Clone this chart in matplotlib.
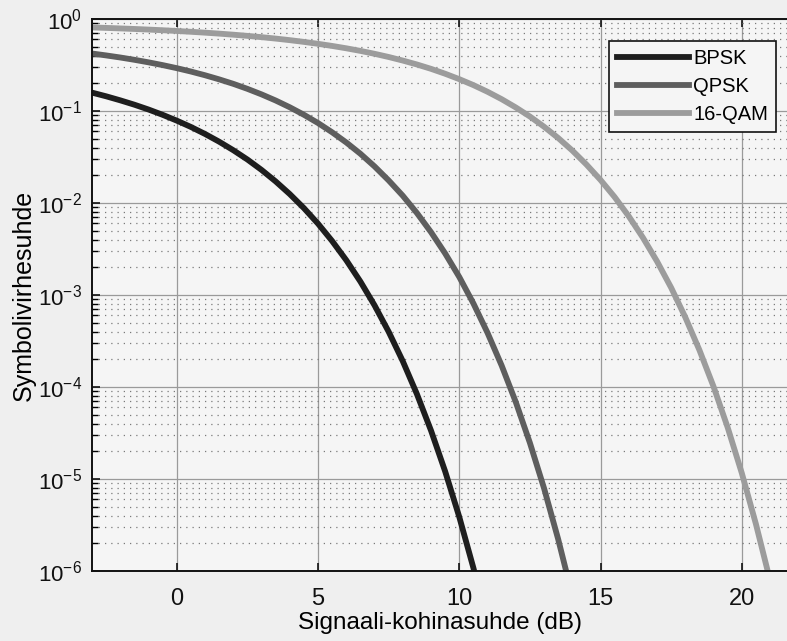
import matplotlib
matplotlib.use("Agg")
from matplotlib import pyplot as plt
from matplotlib.ticker import NullFormatter, FixedLocator

plt.rcParams["font.family"] = ["Liberation Sans", "DejaVu Sans"]
plt.rcParams["mathtext.fontset"] = "custom"
plt.rcParams["mathtext.rm"] = "Liberation Sans"

# signal-to-noise ratio (dB) and symbol error ratio
snr_db = [-3, -2.5, -2, -1.5, -1, -0.5, 0, 0.5, 1, 1.5, 2, 2.5, 3, 3.5,
          4, 4.5, 5, 5.5, 6, 6.5, 7, 7.5, 8, 8.5, 9, 9.5, 10, 10.5, 11,
          11.5, 12, 12.5, 13, 13.5, 14, 14.5, 15, 15.5, 16, 16.5, 17, 17.5,
          18, 18.5, 19, 19.5, 20, 20.5, 21, 21.5, 22]
bpsk = [0.1584, 0.1445, 0.1306, 0.1171, 0.1038, 0.0909, 0.0786, 0.0671,
        0.0563, 0.0464, 0.0375, 0.0297, 0.0229, 0.01717, 0.0125, 0.00880,
        0.00596, 0.00386, 0.00239, 0.00140, 7.73e-4, 3.99e-4, 1.91e-4,
        8.39e-5, 3.36e-5, 1.21e-5, 3.87e-6, 1.08e-6, 2.62e-7] + [None] * 22
qpsk = [0.4216, 0.4019, 0.3816, 0.3602, 0.3381, 0.3154, 0.2922, 0.2686,
        0.2447, 0.2208, 0.1974, 0.1741, 0.1516, 0.1301, 0.1098, 0.0910,
        0.0740, 0.0587, 0.0455, 0.0343, 0.0250, 0.0176, 0.0120, 0.00779,
        0.00482, 0.00283, 0.00157, 8.10e-4, 3.88e-4, 1.71e-4, 6.86e-5,
        2.47e-5, 7.94e-6, 2.22e-6, 5.4e-7] + [None] * 16
qam16 = [0.8096, 0.8002, 0.7900, 0.7791, 0.7673, 0.7546, 0.7410, 0.7263,
         0.7104, 0.6935, 0.6752, 0.6557, 0.6348, 0.6126, 0.5889, 0.5639,
         0.5373, 0.5096, 0.4804, 0.4501, 0.4187, 0.3865, 0.3534, 0.3204,
         0.2872, 0.2541, 0.2219, 0.1912, 0.1618, 0.1344, 0.1093, 0.0871,
         0.0675, 0.0509, 0.0372, 0.0262, 0.0178, 0.0116, 0.00717, 0.00420,
         0.00232, 0.00120, 5.73e-4, 2.52e-4, 1.01e-4, 3.63e-5, 1.16e-5,
         3.24e-6, 7.9e-7, 1.6e-7, 2.7e-8]

series = ["BPSK", "QPSK", "16-QAM"]
colors = ["#1e1e1e", "#5e5e5e", "#9c9c9c"]
x_ticks = [0, 5, 10, 15, 20]
y_ticks = [1e-6, 1e-5, 1e-4, 1e-3, 1e-2, 1e-1, 1]
y_labels = ["$10^{-6}$", "$10^{-5}$", "$10^{-4}$", "$10^{-3}$",
            "$10^{-2}$", "$10^{-1}$", "$10^{0}$"]


def clean(vals):
    return [float("nan") if v is None else v for v in vals]


fig = plt.figure(figsize=(7.87, 6.41), dpi=100, facecolor="#efefef")
ax = fig.add_axes([92 / 787, 70 / 641, 695 / 787, 552 / 641])
ax.set_facecolor("#f5f5f5")

for name, vals, c in zip(series, [bpsk, qpsk, qam16], colors):
    ax.plot(snr_db, clean(vals), color=c, lw=4.2, label=name)

ax.set_yscale("log")
ax.set_xlim(-3, 21.6)
ax.set_ylim(1e-6, 1)
ax.xaxis.set_major_locator(FixedLocator(x_ticks))
ax.set_yticks(y_ticks)
ax.set_yticklabels(y_labels)
minor = [m * d for d in y_ticks[:-1] for m in range(2, 10)]
ax.yaxis.set_minor_locator(FixedLocator(minor))
ax.yaxis.set_minor_formatter(NullFormatter())

ax.grid(True, which="major", color="#9a9a9a", lw=0.9, ls="-")
ax.grid(True, which="minor", axis="y", color="#7a7a7a", lw=0.9, ls=(0, (1, 4)))
ax.set_axisbelow(True)

ax.tick_params(which="major", direction="in", length=6, width=1.2,
               top=True, labelsize=17, colors="#111111")
ax.tick_params(which="minor", direction="in", length=4, width=1.0, top=False)
ax.tick_params(axis="x", pad=12)
ax.tick_params(axis="y", pad=7, labelsize=16)

for side in ["left", "bottom", "top"]:
    ax.spines[side].set_linewidth(1.4)
    ax.spines[side].set_color("#111111")
ax.spines["right"].set_visible(False)

ax.set_xlabel("Signaali-kohinasuhde (dB)", fontsize=17.5, labelpad=2)
ax.set_ylabel("Symbolivirhesuhde", fontsize=18, labelpad=2)

leg = ax.legend(loc="upper right", bbox_to_anchor=(0.999, 0.978), fontsize=14.5,
                handlelength=3.6, handletextpad=0.2, labelspacing=0.45,
                borderpad=0.4, fancybox=False, framealpha=1,
                facecolor="#f5f5f5", edgecolor="#111111")
leg.get_frame().set_linewidth(1.2)

plt.savefig("out.png", dpi=100, facecolor=fig.get_facecolor())
